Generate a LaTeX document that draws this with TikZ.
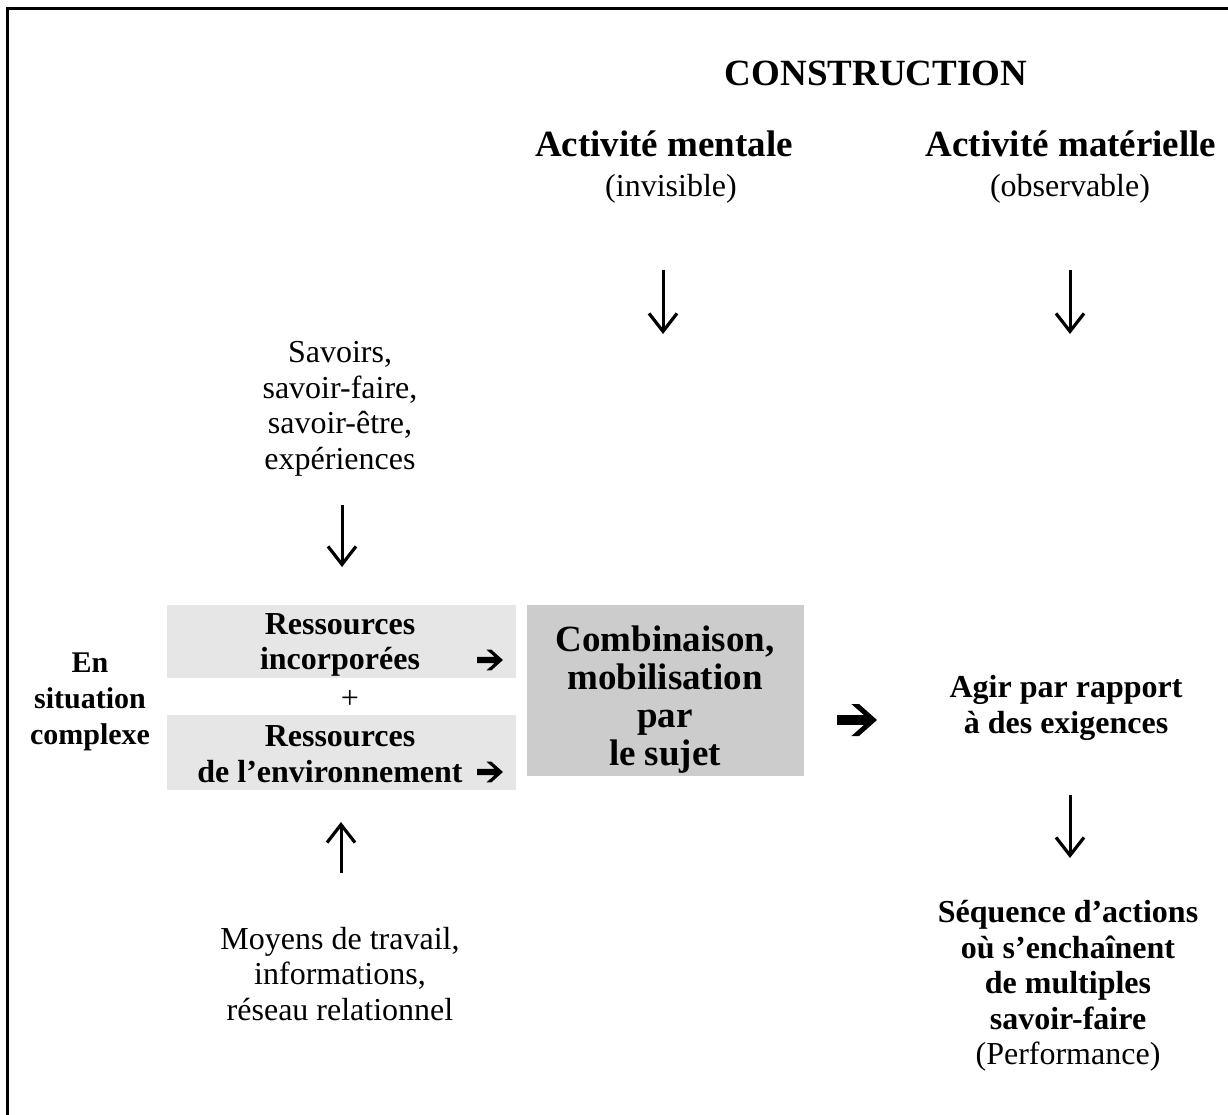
\documentclass[tikz,border=0pt]{standalone}
\usepackage{fontspec}
\setmainfont{Liberation Serif}
\usetikzlibrary{arrows.meta}
\definecolor{lightbox}{HTML}{E6E6E6}
\definecolor{darkbox}{HTML}{CCCCCC}
\begin{document}
\begin{tikzpicture}[x=1pt,y=-1pt,
  reg/.style={font=\fontsize{32}{35.5}\selectfont, align=center, inner sep=0pt},
  bsm/.style={font=\fontsize{32}{35.5}\selectfont\bfseries, align=center, inner sep=0pt},
  bsit/.style={font=\fontsize{30}{36}\selectfont\bfseries, align=center, inner sep=0pt},
  blg/.style={font=\fontsize{37}{38}\selectfont\bfseries, align=center, inner sep=0pt},
  varrow/.style={line width=3pt, -{Straight Barb[length=18pt,width=28pt,line width=3.2pt]}},
  lbox/.style={fill=lightbox, inner sep=0pt, minimum width=349pt},
  dbox/.style={fill=darkbox, inner sep=0pt, minimum width=277pt, minimum height=171pt},
  fatarrow/.pic={\fill (-0.5,0.12) -- (0.177,0.12) -- (-0.14,0.4) -- (0.05,0.4) -- (0.5,0)
      -- (0.05,-0.4) -- (-0.14,-0.4) -- (0.177,-0.12) -- (-0.5,-0.12) -- cycle;}
]
\useasboundingbox (0,0) rectangle (1228,1115);
\fill[white] (0,0) rectangle (1228,1115);
% frame
\draw[line width=3pt] (7,1115) -- (7,9) -- (1228,9);

% header
\node[blg, anchor=base] (construction) at (876,86) {CONSTRUCTION};
\node[blg, anchor=base] (mentale) at (664,157) {Activité mentale};
\node[reg, anchor=base] (invisible) at (671,197) {(invisible)};
\node[blg, anchor=base] (materielle) at (1071,157) {Activité matérielle};
\node[reg, anchor=base] (observable) at (1070,197) {(observable)};

\coordinate (mA) at (663,270);
\coordinate (mB) at (663,334);
\draw[varrow] (mA) -- (mB);
\coordinate (tA) at (1070,270);
\coordinate (tB) at (1070,334);
\draw[varrow] (tA) -- (tB);

% left column
\node[reg] (savoirs) at (340,409) {Savoirs,\\savoir-faire,\\savoir-être,\\expériences};
\coordinate (sA) at (342,505);
\coordinate (sB) at (342,567);
\draw[varrow] (sA) -- (sB);

\node[lbox, minimum height=73pt] (res1) at (341.5,641.5) {};
\node[bsm] (res1t) at (340,645) {Ressources\\incorporées};
\node[reg] (plus) at (350,699) {+};
\node[lbox, minimum height=75pt] (res2) at (341.5,752.5) {};
\node[bsm] (res2t) at (330,754) {\hspace*{20pt}Ressources\\de l’environnement};
\pic[scale=26] (ar1) at (490,660) {fatarrow};
\pic[scale=26] (ar2) at (490,772) {fatarrow};

\node[dbox] (comb) at (665.5,690.5) {};
\node[blg] (combt) at (665,700) {Combinaison,\\mobilisation\\par\\le sujet};
\pic[scale=40] (ar3) at (857,720) {fatarrow};

\node[bsit] (situation) at (90,702) {En\\situation\\complexe};

\node[reg] (moyens) at (340,974) {Moyens de travail,\\informations,\\réseau relationnel};
\coordinate (uA) at (341,873);
\coordinate (uB) at (341,822);
\draw[varrow] (uA) -- (uB);

% right column
\node[bsm] (agir) at (1066,708) {Agir par rapport\\à des exigences};
\coordinate (aA) at (1070,795);
\coordinate (aB) at (1070,858);
\draw[varrow] (aA) -- (aB);
\node[bsm] (sequence) at (1068,986) {Séquence d’actions\\où s’enchaînent\\de multiples\\savoir-faire\\{\mdseries (Performance)}};
\end{tikzpicture}
\end{document}
